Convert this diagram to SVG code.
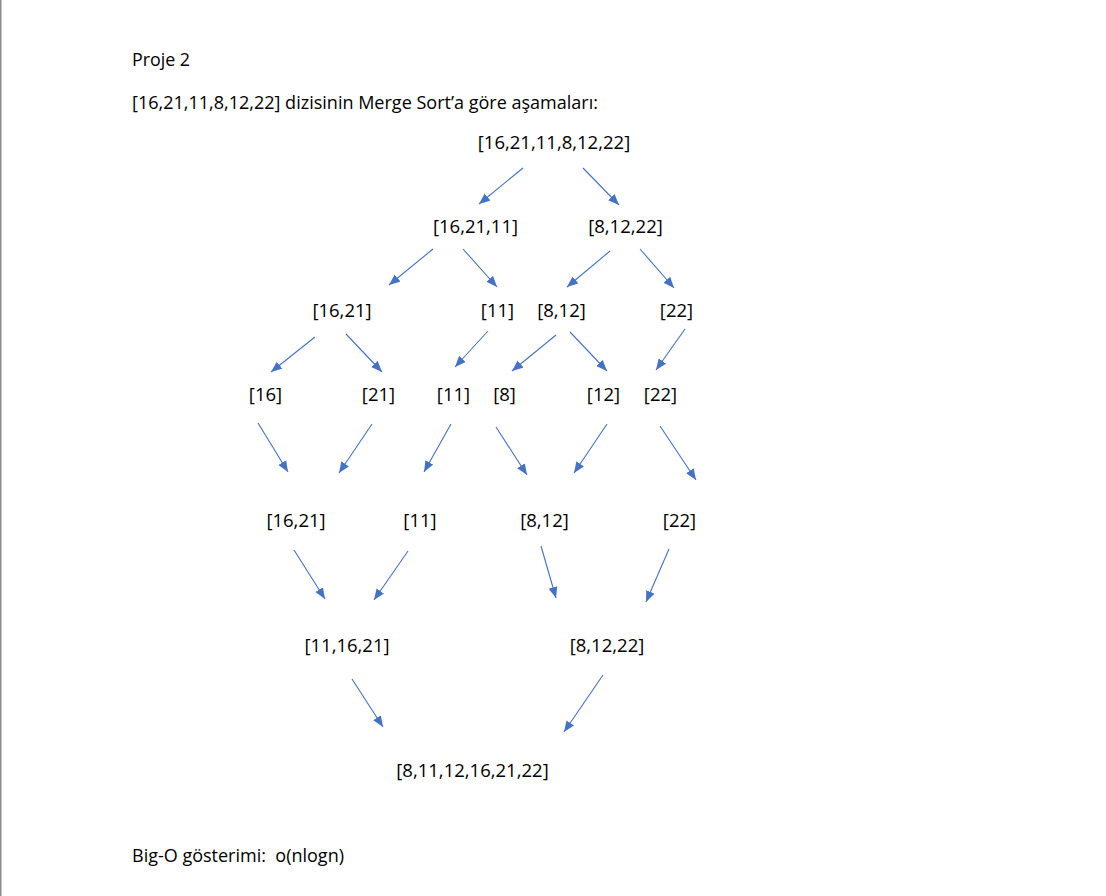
<svg xmlns="http://www.w3.org/2000/svg" width="1106" height="896" viewBox="0 0 1106 896">
<style>
text{font-family:"Open Sans","Noto Sans","Liberation Sans",sans-serif;font-size:18.5px;fill:#000;white-space:pre}
.n text{text-anchor:middle}
#connectors line{stroke:#4472C4;stroke-width:1.1;marker-end:url(#ah)}
</style>
<defs>
<marker id="ah" markerUnits="userSpaceOnUse" markerWidth="12" markerHeight="10" refX="11" refY="4.5" orient="auto" viewBox="0 0 12 9">
<path d="M0,0 L11,4.5 L0,9 z" fill="#4472C4"/>
</marker>
</defs>
<rect x="0" y="0" width="1106" height="896" fill="#fff"/>
<line x1="0.75" y1="0" x2="0.75" y2="896" stroke="#8c8c8c" stroke-width="1.5"/>
<g id="title"><text x="132" y="66" textLength="58" lengthAdjust="spacingAndGlyphs">Proje 2</text></g>
<g id="subtitle"><text x="132" y="109" textLength="466" lengthAdjust="spacingAndGlyphs">[16,21,11,8,12,22] dizisinin Merge Sort’a göre aşamaları:</text></g>
<g id="bigo"><text x="132" y="862" xml:space="preserve" textLength="212" lengthAdjust="spacingAndGlyphs">Big-O gösterimi:  o(nlogn)</text></g>

<g id="connectors">
<line x1="523" y1="168" x2="479" y2="204"/>
<line x1="583" y1="168" x2="619" y2="205"/>
<line x1="433" y1="249" x2="389" y2="285"/>
<line x1="463" y1="249" x2="497" y2="287"/>
<line x1="610" y1="251" x2="567" y2="287"/>
<line x1="640" y1="249" x2="674" y2="288"/>
<line x1="315" y1="337" x2="271" y2="372"/>
<line x1="346" y1="334" x2="382" y2="372"/>
<line x1="488" y1="331" x2="455" y2="367"/>
<line x1="556" y1="335" x2="512" y2="371"/>
<line x1="570" y1="332" x2="607" y2="371"/>
<line x1="685" y1="329" x2="656" y2="370"/>
<line x1="258" y1="423" x2="288" y2="472"/>
<line x1="372" y1="424" x2="339" y2="473"/>
<line x1="451" y1="424" x2="424" y2="472"/>
<line x1="496" y1="427" x2="527" y2="475"/>
<line x1="607" y1="424" x2="574" y2="473"/>
<line x1="660" y1="426" x2="696" y2="480"/>
<line x1="294" y1="550" x2="325" y2="599"/>
<line x1="408" y1="551" x2="374" y2="600"/>
<line x1="541" y1="546" x2="556" y2="598"/>
<line x1="669" y1="549" x2="646" y2="602"/>
<line x1="352" y1="679" x2="383" y2="727"/>
<line x1="603" y1="675" x2="564" y2="732"/>
</g>

<g class="n" id="n-root"><text x="554" y="149">[16,21,11,8,12,22]</text></g>
<g class="n" id="n-l1a"><text x="475.5" y="233">[16,21,11]</text></g>
<g class="n" id="n-l1b"><text x="625.5" y="233">[8,12,22]</text></g>
<g class="n" id="n-l2a"><text x="342" y="317">[16,21]</text></g>
<g class="n" id="n-l2b"><text x="497.5" y="317">[11]</text></g>
<g class="n" id="n-l2c"><text x="561.5" y="317">[8,12]</text></g>
<g class="n" id="n-l2d"><text x="676.5" y="317">[22]</text></g>
<g class="n" id="n-l3a"><text x="265.5" y="401">[16]</text></g>
<g class="n" id="n-l3b"><text x="378.5" y="401">[21]</text></g>
<g class="n" id="n-l3c"><text x="453.5" y="401">[11]</text></g>
<g class="n" id="n-l3d"><text x="504.5" y="401">[8]</text></g>
<g class="n" id="n-l3e"><text x="603.5" y="401">[12]</text></g>
<g class="n" id="n-l3f"><text x="660.5" y="401">[22]</text></g>
<g class="n" id="n-m1a"><text x="296" y="527">[16,21]</text></g>
<g class="n" id="n-m1b"><text x="420" y="527">[11]</text></g>
<g class="n" id="n-m1c"><text x="544.5" y="527">[8,12]</text></g>
<g class="n" id="n-m1d"><text x="679.5" y="527">[22]</text></g>
<g class="n" id="n-m2a"><text x="347" y="652">[11,16,21]</text></g>
<g class="n" id="n-m2b"><text x="607" y="652">[8,12,22]</text></g>
<g class="n" id="n-final"><text x="472.5" y="777">[8,11,12,16,21,22]</text></g>
</svg>
